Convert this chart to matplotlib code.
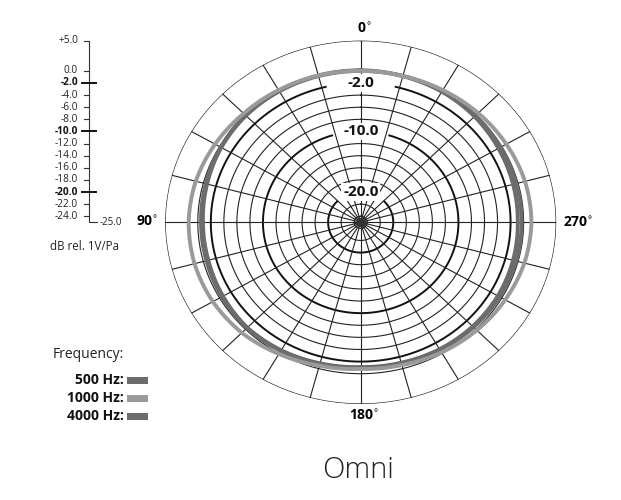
import numpy as np
import matplotlib
matplotlib.use('Agg')
import matplotlib.pyplot as plt
import matplotlib.patches as patches

plt.rcParams['font.family'] = ['Open Sans', 'DejaVu Sans']

# polar response, dB, angles counter-clockwise from the top (90 = left)
angles = list(range(0, 360, 15))
resp_500 = [0.0, 0.0, 0.0, 0.0, -0.2, -0.4, -0.5, -0.5, -0.4, -0.3, -0.5, -0.8,
            -1.0, -0.9, -0.7, -0.5, -0.4, -0.3, -0.3, -0.3, -0.2, -0.1, 0.0, 0.0]
resp_1000 = [0.0, 0.1, 0.2, 0.4, 0.8, 1.2, 1.4, 1.4, 1.2, 0.8, 0.1, -0.5,
             -0.8, -0.6, -0.2, 0.2, 0.6, 1.0, 1.2, 1.1, 0.8, 0.5, 0.2, 0.0]
resp_4000 = [0.1, 0.1, 0.0, -0.1, -0.3, -0.6, -0.8, -0.8, -0.6, -0.4, -0.6, -0.9,
             -1.1, -1.0, -0.8, -0.7, -0.7, -0.8, -0.9, -0.8, -0.6, -0.3, -0.1, 0.0]
series_labels = ['500 Hz:', '1000 Hz:', '4000 Hz:']
series_colors = ['#6c6c6c', '#9a9a9a', '#6c6c6c']

# scale
scale_ticks = [5, 0] + list(range(-2, -25, -2))
bold_ticks = [-2, -10, -20]
ring_levels = list(range(0, -25, -2))

W, H = 621, 500
fig = plt.figure(figsize=(6.21, 5.0), dpi=100)

def fx(x):
    return x / W

def fy(y):
    return 1 - y / H

# polar area (slightly wider than tall, as in the reference)
cx, cy, rx, ry = 360.7, 222.3, 195.5, 181.7
ax = fig.add_axes([fx(cx - rx), fy(cy + ry), 2 * rx / W, 2 * ry / H], projection='polar')
ax.set_aspect('auto')
ax.set_theta_zero_location('N')
ax.set_theta_direction(1)
ax.set_ylim(-25, 5)
ax.grid(False)
ax.set_xticks([])
ax.set_yticks([])
ax.spines['polar'].set_visible(False)
ax.patch.set_alpha(0)

th = np.linspace(0, 2 * np.pi, 721)
ax.plot(th, np.full_like(th, 5), color='#222222', lw=0.9)
gaps = {-2: 13.5, -10: 17, -20: 46}
for r in ring_levels:
    if r in gaps:
        g = np.radians(gaps[r])
        t = np.linspace(g, 2 * np.pi - g, 600)
        ax.plot(t, np.full_like(t, r), color='#111111', lw=1.4)
    else:
        ax.plot(th, np.full_like(th, r), color='#222222', lw=0.8)
for a in range(0, 360, 15):
    ax.plot([np.radians(a)] * 2, [-25, 5], color='#222222', lw=0.8)
ax.plot([0], [-25], 'o', ms=6, color='#333333', zorder=4)

for r in bold_ticks:
    ax.text(0, r, f'{r:.1f}', ha='center', va='center', fontsize=11,
            fontweight='bold', color='#111111', zorder=6,
            bbox=dict(boxstyle='square,pad=0.1', fc='white', ec='none'))

ang = np.radians(angles + [360])
for vals, col in zip([resp_500, resp_4000, resp_1000],
                     [series_colors[0], series_colors[2], series_colors[1]]):
    line, = ax.plot(ang, vals + vals[:1], color=col, lw=2.8, zorder=5)
    line.get_path()._interpolation_steps = 40

# angle labels
deg = r'$^{\circ}$'
fig.text(fx(364), fy(29), '0' + deg, ha='center', va='center', fontsize=10, fontweight='bold')
fig.text(fx(364), fy(416), '180' + deg, ha='center', va='center', fontsize=10, fontweight='bold')
fig.text(fx(158), fy(222), '90' + deg, ha='right', va='center', fontsize=10, fontweight='bold')
fig.text(fx(563), fy(223), '270' + deg, ha='left', va='center', fontsize=10, fontweight='bold')

# dB scale on the left
axl = fig.add_axes([0, fy(cy), 186 / W, ry / H])
axl.set_xlim(0, 186)
axl.set_ylim(-25, 5)
axl.axis('off')
xl = 88.7
axl.plot([xl, xl, 97], [5, -25, -25], color='#333333', lw=0.8, clip_on=False)
for v in scale_ticks:
    if v in bold_ticks:
        axl.plot([81.5, 96], [v, v], color='#111111', lw=1.4, clip_on=False)
        axl.text(78, v, f'{v:.1f}', ha='right', va='center', fontsize=7.3,
                 fontweight='bold', color='#111111')
    else:
        axl.plot([84, xl], [v, v], color='#333333', lw=0.8, clip_on=False)
        lab = f'+{v:.1f}' if v > 0 else f'{v:.1f}'
        axl.text(78, v, lab, ha='right', va='center', fontsize=7.3, color='#222222')
axl.text(99.5, -25, '-25.0', ha='left', va='center', fontsize=7, color='#222222')

fig.text(fx(50), fy(246), 'dB rel. 1V/Pa', ha='left', va='center', fontsize=8.3, color='#222222')

# legend
fig.text(fx(52.5), fy(355), 'Frequency:', ha='left', va='center', fontsize=10, color='#222222')
for i, (lab, col) in enumerate(zip(series_labels, series_colors)):
    yc = [380, 398, 416.5][i]
    fig.text(fx(123.5), fy(yc), lab, ha='right', va='center', fontsize=10,
             fontweight='bold', color='#111111')
    fig.add_artist(patches.Rectangle((fx(127.3), fy(yc + 3.5)), 21 / W, 7 / H,
                                     transform=fig.transFigure, fc=col, ec='none'))

fig.text(fx(358), fy(470), 'Omni', ha='center', va='center', fontsize=21,
         fontweight='light', color='#222222')

fig.savefig('out.png', dpi=100)
